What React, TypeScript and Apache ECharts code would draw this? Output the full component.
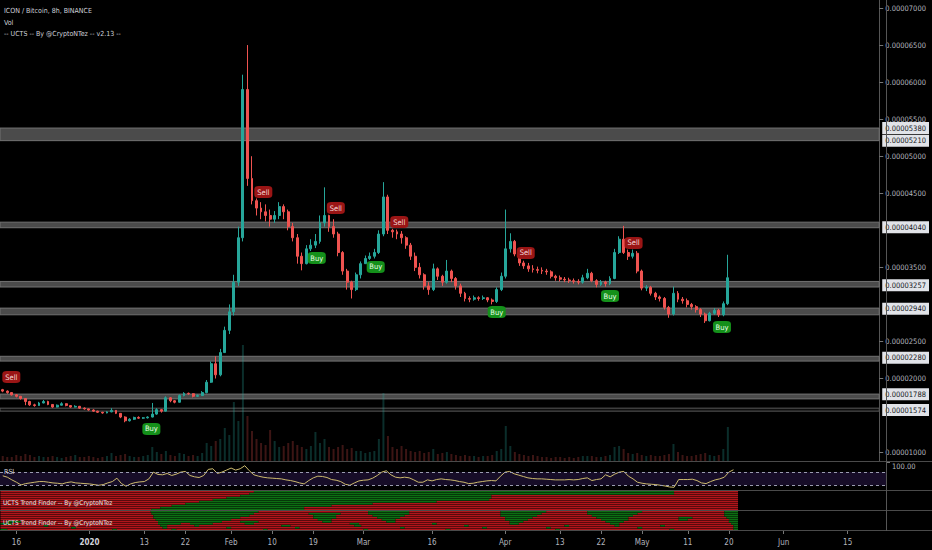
import React, { useEffect, useRef } from 'react';
import * as echarts from 'echarts';

// ---- time axis (days since 2020-01-01) ----
const FIRST_DAY = -19;
const FIRST_OPEN = 1850;
const X_MIN = -19.6;
const X_MAX = 174.4;
const tickDays = [-16, 0, 12, 21, 31, 40, 49, 60, 75, 91, 103, 112, 121, 131, 140, 152, 166];
const tickLabels = ['16', '2020', '13', '22', 'Feb', '10', '19', 'Mar', '16', 'Apr', '13', '22', 'May', '11', '20', 'Jun', '15'];

// ---- prices in 1e-8 BTC ----
const closes = [
  1830, 1810, 1780, 1760, 1730, 1690, 1645, 1635, 1670, 1690,
  1650, 1615, 1640, 1660, 1635, 1615, 1625, 1600, 1590, 1575,
  1560, 1545, 1535, 1550, 1570, 1530, 1480, 1430, 1450, 1475,
  1465, 1470, 1480, 1520, 1580, 1560, 1740, 1700, 1680, 1770,
  1800, 1795, 1760, 1770, 1810, 1950, 2200, 2050, 2350, 2650,
  2900, 3300, 3900, 5900, 4700, 4400, 4300, 4250, 4200, 4150,
  4200, 4320, 4250, 4050, 3900, 3650, 3550, 3750, 3800, 3850,
  4100, 4200, 4050, 3950, 3700, 3450, 3300, 3200, 3400, 3550,
  3620, 3650, 3700, 3950, 4450, 4000, 3980, 3950, 3900, 3800,
  3650, 3500, 3400, 3250, 3200, 3480, 3380, 3300, 3450, 3350,
  3250, 3150, 3080, 3070, 3090, 3080, 3090, 3060, 3040, 3200,
  3380, 3750, 3850, 3680, 3560, 3520, 3480, 3470, 3460, 3450,
  3440, 3380, 3360, 3340, 3330, 3320, 3310, 3300, 3360, 3420,
  3320, 3270, 3300, 3280, 3350, 3700, 3880, 3700, 3650, 3690,
  3450, 3220, 3230, 3150, 3100, 3080, 2960, 2870, 3150, 3070,
  3050, 3000, 2970, 2930, 2870, 2780, 2880, 2920, 2860, 3010, 3360,
];
const highs = [
  1860, 1840, 1815, 1790, 1765, 1735, 1700, 1660, 1685, 1710,
  1700, 1655, 1650, 1680, 1665, 1640, 1640, 1630, 1610, 1595,
  1585, 1565, 1550, 1560, 1600, 1575, 1535, 1490, 1465, 1485,
  1490, 1480, 1490, 1670, 1600, 1590, 1760, 1750, 1710, 1785,
  1815, 1810, 1800, 1785, 1830, 1980, 2230, 2300, 2400, 2700,
  3000, 3400, 4050, 6100, 6500, 5000, 4430, 4380, 4350, 4280,
  4260, 4380, 4350, 4280, 4100, 3950, 3700, 3800, 3880, 3950,
  4200, 4580, 4210, 4150, 3980, 3720, 3480, 3320, 3430, 3580,
  3660, 3700, 3750, 4000, 4650, 4480, 4020, 4010, 3990, 3920,
  3830, 3700, 3560, 3420, 3300, 3550, 3500, 3400, 3600, 3470,
  3370, 3280, 3170, 3110, 3120, 3110, 3120, 3100, 3080, 3230,
  3430, 4280, 3960, 3870, 3690, 3590, 3560, 3530, 3510, 3500,
  3480, 3460, 3400, 3390, 3370, 3360, 3350, 3340, 3400, 3480,
  3440, 3340, 3330, 3320, 3380, 3750, 3920, 4060, 3740, 3740,
  3720, 3470, 3260, 3250, 3170, 3120, 3100, 2980, 3240, 3180,
  3100, 3080, 3020, 2990, 2950, 2890, 2900, 2950, 2940, 3040, 3670,
];
const lows = [
  1815, 1795, 1770, 1745, 1715, 1640, 1630, 1620, 1630, 1665,
  1640, 1605, 1610, 1635, 1625, 1605, 1610, 1590, 1580, 1565,
  1550, 1535, 1525, 1530, 1545, 1520, 1465, 1410, 1420, 1440,
  1455, 1455, 1460, 1475, 1510, 1540, 1555, 1680, 1665, 1675,
  1760, 1780, 1745, 1750, 1765, 1800, 1940, 2000, 2030, 2400,
  2600, 2850, 3250, 3850, 4600, 4350, 4200, 4150, 4120, 4050,
  4100, 4150, 4150, 4000, 3850, 3550, 3460, 3540, 3720, 3760,
  3820, 4050, 3980, 3900, 3650, 3400, 3200, 3080, 3180, 3350,
  3590, 3600, 3620, 3680, 3920, 3950, 3900, 3880, 3820, 3750,
  3600, 3450, 3350, 3200, 3130, 3180, 3330, 3250, 3280, 3300,
  3200, 3100, 3040, 3030, 3050, 3050, 3060, 3030, 3000, 3020,
  3180, 3350, 3700, 3650, 3520, 3480, 3440, 3430, 3420, 3410,
  3400, 3350, 3320, 3310, 3300, 3290, 3280, 3270, 3280, 3340,
  3300, 3230, 3250, 3240, 3260, 3340, 3680, 3680, 3600, 3620,
  3420, 3190, 3180, 3120, 3060, 3040, 2930, 2820, 2850, 3030,
  3010, 2960, 2930, 2890, 2830, 2750, 2770, 2860, 2830, 2840, 2990,
];
const volumes = [
  5, 4, 4, 6, 5, 7, 6, 4, 5, 4,
  4, 5, 4, 3, 4, 5, 6, 4, 4, 5,
  4, 3, 4, 5, 8, 5, 6, 7, 5, 4,
  4, 5, 6, 14, 9, 7, 10, 6, 5, 8,
  7, 5, 6, 5, 8, 18, 15, 20, 22, 33,
  26, 59, 40, 116, 45, 30, 22, 18, 16, 31,
  20, 14, 15, 18, 20, 16, 14, 12, 15, 29,
  18, 22, 14, 12, 14, 16, 12, 13, 10, 10,
  8, 9, 10, 22, 68, 25, 14, 12, 15, 12,
  10, 9, 10, 8, 9, 12, 7, 8, 9, 7,
  6, 5, 6, 5, 5, 4, 5, 5, 6, 10,
  12, 35, 15, 9, 7, 6, 5, 6, 5, 4,
  4, 3, 4, 4, 3, 4, 3, 4, 5, 5,
  5, 4, 4, 5, 6, 14, 15, 12, 8, 7,
  8, 6, 5, 6, 5, 5, 6, 7, 17, 9,
  6, 5, 5, 6, 7, 8, 6, 5, 6, 12, 34,
];
const rsi = [
  59, 55, 47, 40, 32, 36, 38, 40, 42, 42,
  40, 38, 37, 35, 39, 41, 38, 37, 36, 35,
  33, 31, 33, 38, 42, 52, 36, 28, 35, 39,
  41, 42, 50, 70, 63, 62, 66, 60, 64, 70,
  72, 60, 56, 54, 60, 78, 80, 66, 70, 76,
  82, 76, 80, 89, 74, 62, 58, 55, 53, 52,
  51, 50, 47, 45, 42, 38, 35, 45, 53, 58,
  57, 54, 48, 46, 42, 34, 31, 38, 44, 46,
  47, 52, 60, 70, 74, 62, 55, 53, 55, 53,
  47, 40, 40, 47, 44, 48, 50, 48, 47, 45,
  42, 40, 36, 37, 40, 42, 44, 45, 44, 58,
  70, 72, 65, 61, 57, 53, 51, 50, 50, 49,
  48, 47, 47, 47, 48, 47, 48, 51, 53, 45,
  48, 50, 62, 56, 64, 70, 72, 58, 50, 40,
  37, 35, 34, 33, 31, 29, 26, 25, 48, 48,
  48, 49, 45, 38, 36, 42, 47, 50, 55, 70, 77,
];

// ---- price axis ----
const PRICE_MIN = 887;
const PRICE_MAX = 7108;
const priceTicks = [7000, 6500, 6000, 5500, 5000, 4500, 3500, 2500, 2000, 1000];
const levelTicks = [5380, 5210, 4040, 3257, 2940, 2280, 1788, 1574];
const bandLevels = [[5210, 5380], [4035, 4110], [3235, 3310], [2860, 2950], [2235, 2300], [1725, 1790]];
const thinBand = [1560, 1600];

// ---- signals ----
const sellDays = [-17.1, 38.5, 54.5, 68.5, 96.4, 120.2];
const sellLevels = [2020, 4517, 4301, 4112, 3694, 3829];
const buyDays = [13.8, 50.3, 63.3, 90, 115, 139.7];
const buyLevels = [1319, 3626, 3505, 2897, 3113, 2695];

// ---- trend finder rows: [day, state] change points (1 = up, 0 = down) ----
const TREND_END = 142;
const trendA = [
  [[-19.5, 0], [36, 1], [128, 0]],
  [[-19.5, 0], [35, 1], [128, 0]],
  [[-19.5, 0], [33, 1], [88, 0]],
  [[-19.5, 0], [30, 1], [88, 0]],
  [[-19.5, 0], [27, 1], [87.5, 0]],
  [[-19.5, 0], [24, 1], [76, 0]],
  [[-19.5, 0], [21, 1], [62, 0]],
  [[-19.5, 0], [18, 1], [53, 0]],
  [[-19.5, 0], [15.5, 1], [47, 0]],
  [[-19.5, 0], [13.5, 1], [47, 0]],
];
const trendB = [
  [[-19.5, 0], [13.4, 1], [37, 0], [61, 1], [70, 0], [90, 1], [100, 0], [109, 1], [121, 0], [139, 1]],
  [[-19.5, 0], [13.6, 1], [36, 0], [48, 1], [55, 0], [61, 1], [70, 0], [90, 1], [99, 0], [109, 1], [120, 0], [139, 1]],
  [[-19.5, 0], [14, 1], [35, 0], [49, 1], [54, 0], [62, 1], [69, 0], [90, 1], [98, 0], [110, 1], [119, 0], [139, 1]],
  [[-19.5, 0], [14, 1], [33, 0], [49, 1], [54, 0], [63, 1], [68, 0], [91, 1], [97, 0], [111, 1], [118, 0], [129, 1], [132, 0], [139.5, 1]],
  [[-19.5, 0], [14.5, 1], [31, 0], [50, 1], [53, 0], [64, 1], [67, 0], [91, 1], [96, 0], [112, 1], [118, 0], [129, 1], [131, 0], [140, 1]],
  [[-19.5, 0], [-18, 1], [-15, 0], [15, 1], [29, 0], [33, 1], [37, 0], [51, 1], [53, 0], [65, 1], [67, 0], [92, 1], [95, 0], [113, 1], [117, 0], [140, 1]],
  [[-19.5, 1], [-17, 0], [15, 1], [20, 0], [22, 1], [27, 0], [34, 1], [36, 0], [57, 1], [59, 0], [75, 1], [76, 0], [92, 1], [94, 0], [114, 1], [116, 0], [140.5, 1]],
  [[-19.5, 0], [-10, 1], [-9, 0], [15.5, 1], [17, 0], [23, 1], [24, 0], [42, 1], [44, 0], [58, 1], [59.5, 0], [82, 1], [83, 0], [104, 1], [105, 0], [115, 1], [116, 0], [125, 1], [126, 0], [141, 1]],
  [[-19.5, 0], [-4, 1], [-3, 0], [16, 1], [17, 0], [30, 1], [31, 0], [45, 1], [46, 0], [68, 1], [69, 0], [86, 1], [87, 0], [100, 1], [101, 0], [120, 1], [121, 0], [141, 1]],
  [[-19.5, 1], [-18, 0], [5, 1], [6, 0], [18, 1], [19, 0], [38, 1], [39, 0], [60, 1], [61, 0], [78, 1], [79, 0], [102, 1], [103, 0], [127, 1], [128, 0], [141, 1]],
];

const UP = '#26a69a';
const DOWN = '#ef5350';
const T_GREEN = '#0d6e12';
const T_RED = '#b0151a';
const AXIS_TXT = '#b2b5be';
const FONT = '"Liberation Sans Narrow", "DejaVu Sans Condensed", "Liberation Sans", sans-serif';

function toSegments(rows: number[][][]) {
  const out: number[][] = [];
  rows.forEach((row, r) => {
    row.forEach((cp, i) => {
      const end = i + 1 < row.length ? row[i + 1][0] : TREND_END;
      out.push([cp[0], end, r + 0.5, cp[1]]);
    });
  });
  return out;
}

const renderTrend = (params: any, api: any) => {
  const p0 = api.coord([api.value(0), api.value(2)]);
  const p1 = api.coord([api.value(1), api.value(2)]);
  const h = api.size([0, 1])[1];
  return {
    type: 'rect',
    shape: { x: p0[0], y: p0[1] - h / 2, width: p1[0] - p0[0], height: h - 0.5 },
    style: { fill: api.value(3) ? T_GREEN : T_RED },
  };
};

export default function App() {
  const ref = useRef<HTMLDivElement>(null);
  useEffect(() => {
    if (!ref.current) return;
    const chart = echarts.init(ref.current, null, { renderer: 'svg' });

    const candleData = closes.map((c, i) => [FIRST_DAY + i, i === 0 ? FIRST_OPEN : closes[i - 1], c, lows[i], highs[i]]);
    const volData = volumes.map((v, i) => {
      const o = i === 0 ? FIRST_OPEN : closes[i - 1];
      return {
        value: [FIRST_DAY + i, v],
        itemStyle: { color: closes[i] >= o ? 'rgba(38,166,154,0.28)' : 'rgba(239,83,80,0.25)' },
      };
    });
    const rsiData = rsi.map((v, i) => [FIRST_DAY + i, v]);

    const hiddenX = (gi: number) => ({
      type: 'value', gridIndex: gi, min: X_MIN, max: X_MAX,
      axisLabel: { show: false }, axisLine: { show: false, onZero: false }, axisTick: { show: false }, splitLine: { show: false },
    });

    const option: any = {
      animation: false,
      backgroundColor: '#000000',
      textStyle: { fontFamily: FONT },
      grid: [
        { left: 0, right: 46, top: 0, height: 461 },
        { left: 0, right: 46, top: 462, height: 29 },
        { left: 0, right: 46, top: 491, height: 20 },
        { left: 0, right: 46, top: 511, height: 20 },
      ],
      xAxis: [
        hiddenX(0), hiddenX(1), hiddenX(2),
        {
          type: 'value', gridIndex: 3, min: X_MIN, max: X_MAX,
          axisLine: { show: false, onZero: false }, splitLine: { show: false },
          axisTick: { show: true, customValues: tickDays, length: 3, lineStyle: { color: '#777' } },
          axisLabel: {
            customValues: tickDays, margin: 7, fontSize: 8, color: AXIS_TXT, fontFamily: FONT,
            formatter: (v: number) => {
              const k = tickDays.indexOf(Math.round(v));
              const t = k >= 0 ? tickLabels[k] : '';
              return t === '2020' ? '{b|2020}' : t;
            },
            rich: { b: { fontWeight: 'bold', fontSize: 8, color: '#d1d4dc', fontFamily: FONT } },
          },
        },
      ],
      yAxis: [
        {
          type: 'value', gridIndex: 0, min: PRICE_MIN, max: PRICE_MAX, position: 'right',
          splitLine: { show: false },
          axisLine: { show: true, onZero: false, lineStyle: { color: '#555' } },
          axisTick: { show: true, customValues: priceTicks, length: 4, lineStyle: { color: '#777' } },
          axisLabel: {
            customValues: priceTicks, margin: 6, fontSize: 7.5, color: AXIS_TXT, fontFamily: FONT,
            formatter: (v: number) => (v * 1e-8).toFixed(8),
          },
        },
        {
          type: 'value', gridIndex: 0, min: PRICE_MIN, max: PRICE_MAX, position: 'right',
          splitLine: { show: false }, axisLine: { show: false, onZero: false }, axisTick: { show: false },
          axisLabel: {
            customValues: levelTicks, margin: 3, fontFamily: FONT,
            formatter: (v: number) => '{h|' + (v * 1e-8).toFixed(8) + '}',
            rich: {
              h: { backgroundColor: '#e1e3e8', color: '#131722', fontSize: 7.5, padding: [2, 3, 2, 3], fontFamily: FONT },
            },
          },
        },
        { type: 'value', gridIndex: 0, min: 0, max: 461, show: false, axisLine: { onZero: false } },
        {
          type: 'value', gridIndex: 1, min: 14, max: 100, position: 'right',
          splitLine: { show: false },
          axisLine: { show: true, onZero: false, lineStyle: { color: '#555' } },
          axisTick: { show: true, customValues: [100], length: 4, lineStyle: { color: '#777' } },
          axisLabel: {
            customValues: [100], margin: 6, fontSize: 7.5, color: AXIS_TXT, fontFamily: FONT,
            verticalAlign: 'top', formatter: (v: number) => v.toFixed(2),
          },
        },
        { type: 'value', gridIndex: 2, min: 0, max: 10, inverse: true, show: false, axisLine: { onZero: false } },
        { type: 'value', gridIndex: 3, min: 0, max: 10, inverse: true, show: false, axisLine: { onZero: false } },
      ],
      series: [
        {
          type: 'bar', name: 'Vol', xAxisIndex: 0, yAxisIndex: 2, data: volData, barWidth: 2, z: 1,
        },
        {
          type: 'candlestick', name: 'ICON/BTC', xAxisIndex: 0, yAxisIndex: 0,
          data: candleData, encode: { x: 0, y: [1, 2, 3, 4] }, barWidth: 2.4, z: 3,
          itemStyle: { color: UP, color0: DOWN, borderColor: UP, borderColor0: DOWN, borderWidth: 1 },
          markArea: {
            silent: true,
            itemStyle: { color: '#4b4b4b', borderColor: '#727272', borderWidth: 1 },
            data: [
              ...bandLevels.map((b) => [{ yAxis: b[0] }, { yAxis: b[1] }]),
              [{ yAxis: thinBand[0], itemStyle: { color: '#0d0d0d', borderColor: '#5a5a5a', borderWidth: 1 } }, { yAxis: thinBand[1] }],
            ],
          },
        },
        {
          type: 'scatter', name: 'Sell', xAxisIndex: 0, yAxisIndex: 0, z: 6,
          data: sellDays.map((d, i) => [d, sellLevels[i]]),
          symbol: 'roundRect', symbolSize: [18, 12],
          itemStyle: { color: '#9a1515', opacity: 1 },
          label: { show: true, position: 'inside', formatter: 'Sell', fontSize: 7.5, color: '#f6dada', fontFamily: FONT },
        },
        {
          type: 'scatter', name: 'Buy', xAxisIndex: 0, yAxisIndex: 0, z: 6,
          data: buyDays.map((d, i) => [d, buyLevels[i]]),
          symbol: 'roundRect', symbolSize: [18, 12],
          itemStyle: { color: '#14901a', opacity: 1 },
          label: { show: true, position: 'inside', formatter: 'Buy', fontSize: 7.5, color: '#e6ffe6', fontFamily: FONT },
        },
        {
          type: 'line', name: 'RSI', xAxisIndex: 1, yAxisIndex: 3, data: rsiData,
          showSymbol: false, symbol: 'none', lineStyle: { color: '#cdbb6e', width: 1 }, z: 3,
          markArea: {
            silent: true, itemStyle: { color: 'rgba(103,58,183,0.22)' },
            data: [[{ yAxis: 30 }, { yAxis: 70 }]],
          },
          markLine: {
            silent: true, symbol: 'none', label: { show: false },
            lineStyle: { color: '#9a9cb0', type: [3, 3], width: 1 },
            data: [{ yAxis: 70 }, { yAxis: 30 }],
          },
        },
        {
          type: 'custom', name: 'UCTS Trend Finder A', xAxisIndex: 2, yAxisIndex: 4,
          data: toSegments(trendA), encode: { x: [0, 1], y: 2 }, renderItem: renderTrend,
        },
        {
          type: 'custom', name: 'UCTS Trend Finder B', xAxisIndex: 3, yAxisIndex: 5,
          data: toSegments(trendB), encode: { x: [0, 1], y: 2 }, renderItem: renderTrend,
        },
      ],
      graphic: [
        { type: 'line', z: 50, shape: { x1: 0, y1: 461.5, x2: 932, y2: 461.5 }, style: { stroke: '#4a4a4a', lineWidth: 1 } },
        { type: 'line', z: 50, shape: { x1: 0, y1: 490.5, x2: 932, y2: 490.5 }, style: { stroke: '#4a4a4a', lineWidth: 1 } },
        { type: 'line', z: 50, shape: { x1: 0, y1: 510.5, x2: 932, y2: 510.5 }, style: { stroke: '#4a4a4a', lineWidth: 1 } },
        { type: 'line', z: 50, shape: { x1: 0, y1: 530.5, x2: 932, y2: 530.5 }, style: { stroke: '#4a4a4a', lineWidth: 1 } },
        { type: 'line', z: 50, shape: { x1: 886.5, y1: 0, x2: 886.5, y2: 531 }, style: { stroke: '#555', lineWidth: 1 } },
        { type: 'text', z: 100, left: 4, top: 7, style: { text: 'ICON / Bitcoin, 8h, BINANCE', fill: '#d1d4dc', font: '7px ' + FONT } },
        { type: 'text', z: 100, left: 4, top: 19, style: { text: 'Vol', fill: '#d1d4dc', font: '7px ' + FONT } },
        { type: 'text', z: 100, left: 4, top: 30, style: { text: '-- UCTS -- By @CryptoNTez -- v2.13 --', fill: '#d1d4dc', font: '7px ' + FONT } },
        { type: 'text', z: 100, left: 4, top: 468, style: { text: 'RSI', fill: '#d1d4dc', font: '7px ' + FONT } },
        { type: 'text', z: 100, left: 3, top: 499, style: { text: 'UCTS Trend Finder -- By @CryptoNTez', fill: '#e8e8e8', font: '6.5px ' + FONT } },
        { type: 'text', z: 100, left: 3, top: 519, style: { text: 'UCTS Trend Finder -- By @CryptoNTez', fill: '#e8e8e8', font: '6.5px ' + FONT } },
      ],
    };
    chart.setOption(option);
    return () => chart.dispose();
  }, []);
  return <div ref={ref} style={{ position: 'fixed', left: 0, top: 0, width: 932, height: 550 }} />;
}
